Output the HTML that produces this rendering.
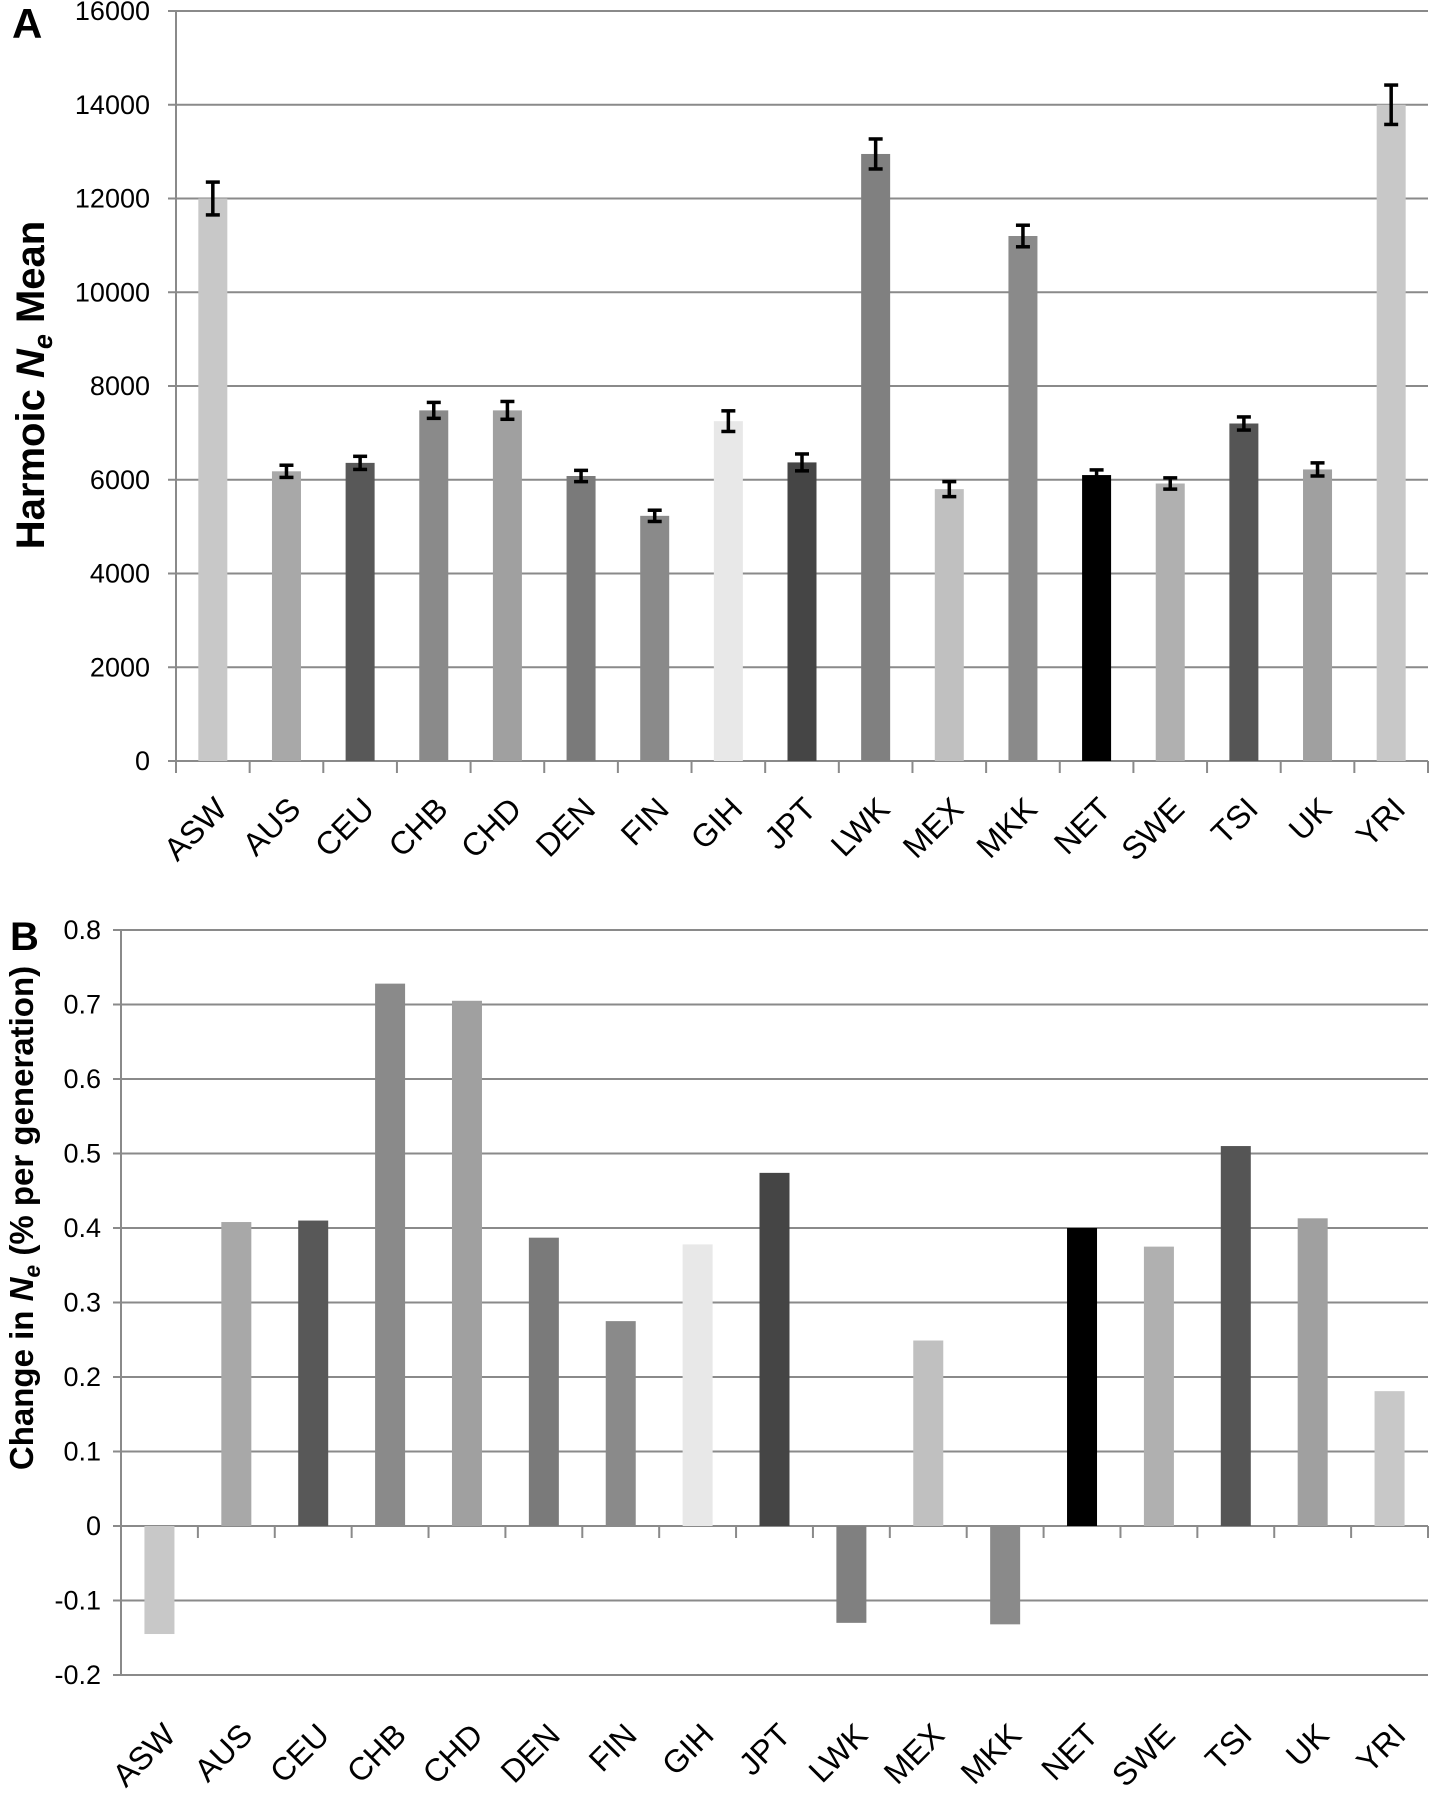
<!DOCTYPE html>
<html><head><meta charset="utf-8"><style>
html,body{margin:0;padding:0;background:#fff;}
svg{display:block;font-family:"Liberation Sans",sans-serif;}
</style></head><body>
<svg id="fig" width="1430" height="1800" viewBox="0 0 1430 1800"></svg>
<script>
const categories=["ASW","AUS","CEU","CHB","CHD","DEN","FIN","GIH","JPT","LWK","MEX","MKK","NET","SWE","TSI","UK","YRI"];
const neMean=[12000,6180,6360,7480,7480,6080,5230,7250,6370,12950,5800,11200,6100,5920,7200,6220,14000];
const neErr=[350,130,140,170,190,120,120,220,180,320,160,230,110,120,140,140,420];
const neChange=[-0.145,0.408,0.41,0.728,0.705,0.387,0.275,0.378,0.474,-0.13,0.249,-0.132,0.40,0.375,0.51,0.413,0.181];
const ticksA=[0,2000,4000,6000,8000,10000,12000,14000,16000];
const ticksB=[-0.2,-0.1,0,0.1,0.2,0.3,0.4,0.5,0.6,0.7,0.8];
const colors=["#c8c8c8","#a8a8a8","#585858","#8a8a8a","#a0a0a0","#7a7a7a","#8a8a8a","#e8e8e8","#454545","#808080","#c0c0c0","#8a8a8a","#000000","#b0b0b0","#555555","#a0a0a0","#c8c8c8"];

const NS="http://www.w3.org/2000/svg";
const svg=document.getElementById('fig');
function mk(tag,attrs,parent){const e=document.createElementNS(NS,tag);for(const k in attrs)e.setAttribute(k,attrs[k]);(parent||svg).appendChild(e);return e;}

const A={x0:176,x1:1428,yTop:11,yBot:761,min:0,max:16000};
const yA=v=>A.yBot-(v-A.min)/(A.max-A.min)*(A.yBot-A.yTop);
const bwA=(A.x1-A.x0)/categories.length;
const xA=i=>A.x0+bwA*(i+0.5);
const B={x0:121,x1:1428,yTop:930,yBot:1675,min:-0.2,max:0.8};
const yB=v=>B.yBot-(v-B.min)/(B.max-B.min)*(B.yBot-B.yTop);
const bwB=(B.x1-B.x0)/categories.length;
const xB=i=>B.x0+bwB*(i+0.5);

function panel(P,yf,ticks,fmt,labelX,panelName){
  const g=mk('g',{});
  
  
  ticks.forEach(t=>{
    const y=yf(t);
    const l=mk('line',{x1:P.x0-8,x2:P.x1,y1:y,y2:y,stroke:'#8a8a8a','stroke-width':2},g);
    
    
    const tx=mk('text',{x:labelX,y:y+9,'text-anchor':'end','font-size':27,fill:'#000'},g);
    tx.textContent=fmt(t);
    
    
  });
  const ax=mk('line',{x1:P.x0,x2:P.x0,y1:P.yTop,y2:P.yBot,stroke:'#8a8a8a','stroke-width':2},g);
  
  
  return g;
}
const gA=panel(A,yA,ticksA,t=>String(t),150,'panel-a');
const gB=panel(B,yB,ticksB,t=>String(Math.round(t*10)/10),101,'panel-b');

for(let i=0;i<=categories.length;i++){
  const x=A.x0+bwA*i;
  const t=mk('line',{x1:x,x2:x,y1:A.yBot,y2:A.yBot+12,stroke:'#8a8a8a','stroke-width':2},gA);
  
  
}
categories.forEach((c,i)=>{
  const cx=xA(i),w=29;
  const r=mk('rect',{x:cx-w/2,y:yA(neMean[i]),width:w,height:yA(0)-yA(neMean[i]),fill:colors[i]},gA);
  
  
  const hi=yA(neMean[i]+neErr[i]),lo=yA(neMean[i]-neErr[i]);
  const eg=mk('g',{stroke:'#000','stroke-width':3.5},gA);
  
  
  mk('line',{x1:cx,x2:cx,y1:hi,y2:lo},eg);
  mk('line',{x1:cx-7,x2:cx+7,y1:hi,y2:hi},eg);
  mk('line',{x1:cx-7,x2:cx+7,y1:lo,y2:lo},eg);
  const lx=cx+16,ly=A.yBot+50;
  const t=mk('text',{x:lx,y:ly,'text-anchor':'end','font-size':32,transform:`rotate(-45 ${lx} ${ly})`},gA);
  t.textContent=c;
  
  
});

const zB=yB(0);
const zl=mk('line',{x1:B.x0,x2:B.x1,y1:zB,y2:zB,stroke:'#8a8a8a','stroke-width':2},gB);


for(let i=0;i<=categories.length;i++){
  const x=B.x0+bwB*i;
  const t=mk('line',{x1:x,x2:x,y1:zB,y2:zB+12,stroke:'#8a8a8a','stroke-width':2},gB);
  
  
}
categories.forEach((c,i)=>{
  const cx=xB(i),w=30;
  const v=neChange[i];
  const y1=Math.min(yB(v),zB),h=Math.abs(yB(v)-zB);
  const r=mk('rect',{x:cx-w/2,y:y1,width:w,height:h,fill:colors[i]},gB);
  
  
  const lx=cx+18,ly=B.yBot+62;
  const t=mk('text',{x:lx,y:ly,'text-anchor':'end','font-size':32,transform:`rotate(-45 ${lx} ${ly})`},gB);
  t.textContent=c;
  
  
});

const la=mk('text',{x:12,y:38,'font-size':42,'font-weight':'bold'});
la.textContent='A';


const lb=mk('text',{x:10,y:950,'font-size':40,'font-weight':'bold'});
lb.textContent='B';



const ta=mk('text',{x:44,y:385,'text-anchor':'middle','font-size':40,'font-weight':'bold',transform:'rotate(-90 44 385)'});
ta.innerHTML='Harmoic <tspan font-style="italic">N</tspan><tspan font-style="italic" font-size="27" dy="8">e</tspan><tspan dy="-8"> Mean</tspan>';


const tb=mk('text',{x:33,y:1218,'text-anchor':'middle','font-size':33,'font-weight':'bold',transform:'rotate(-90 33 1218)'});
tb.innerHTML='Change in <tspan font-style="italic">N</tspan><tspan font-style="italic" font-size="23" dy="7">e</tspan><tspan dy="-7"> (% per generation)</tspan>';


</script>
</body></html>
